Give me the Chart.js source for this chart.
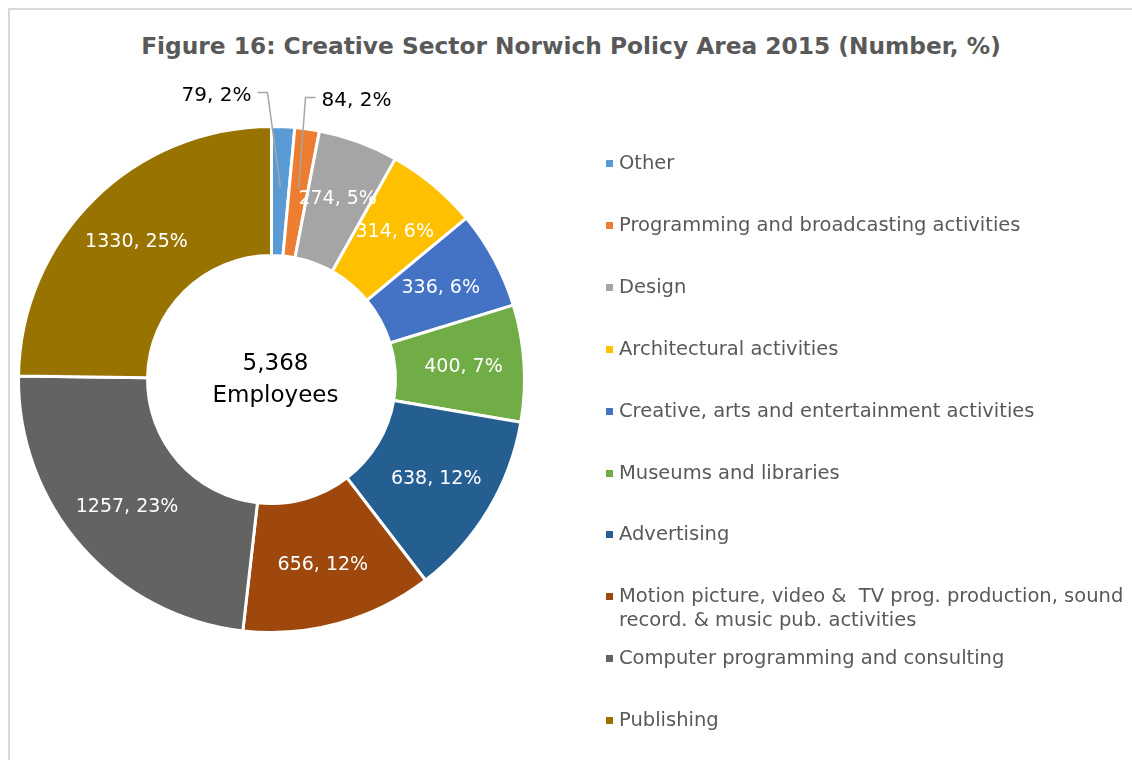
<!DOCTYPE html>
<html lang="en">
<head>
	<meta charset="utf-8" />
	<title>Creative Sector Norwich Policy Area 2015</title>
	<script src="https://cdn.jsdelivr.net/npm/chart.js@4.4.1/dist/chart.umd.min.js"></script>
	<style>
		html, body { margin: 0; padding: 0; background: #fff; overflow: hidden; }
		body { width: 1132px; height: 760px; position: relative; font-family: "DejaVu Sans", sans-serif; }
		.frame { position: absolute; left: 8px; top: 8px; width: 1200px; height: 800px; border: 2px solid #d9d9d9; box-sizing: border-box; }
		h1 { position: absolute; left: 10px; right: 0; top: 32px; margin: 0; text-align: center; font-size: 23.3px; font-weight: bold; color: #595959; }
		#chartWrap { position: absolute; left: 0; top: 0; width: 1132px; height: 760px; }
		.legend { position: absolute; left: 604px; top: 0; width: 528px; }
		.legend .item { position: absolute; left: 0; white-space: pre; font-size: 19.5px; line-height: 24px; color: #595959; }
		.legend .box { position: absolute; left: 2px; top: 9px; width: 7px; height: 7px; }
		.legend .txt { display: block; padding-left: 15px; }
	</style>
</head>
<body>
	<div class="frame"></div>
	<h1>Figure 16: Creative Sector Norwich Policy Area 2015 (Number, %)</h1>
	<div id="chartWrap"><canvas id="donut" width="1132" height="760"></canvas></div>
	<div class="legend" id="legend"></div>

	<script>
		const categories = [
			'Other',
			'Programming and broadcasting activities',
			'Design',
			'Architectural activities',
			'Creative, arts and entertainment activities',
			'Museums and libraries',
			'Advertising',
			'Motion picture, video &  TV prog. production, sound\nrecord. & music pub. activities',
			'Computer programming and consulting',
			'Publishing'
		];
		const employees = [79, 84, 274, 314, 336, 400, 638, 656, 1257, 1330];
		const percents = [2, 2, 5, 6, 6, 7, 12, 12, 23, 25];
		const totalLabel = ['5,368', 'Employees'];

		const colours = ['#5b9bd5', '#ed7d31', '#a5a5a5', '#ffc000', '#4472c4',
			'#70ad47', '#255e91', '#9e480e', '#636363', '#997300'];

		// small slices get a label outside with a leader line (offsets from the centre)
		const callouts = {
			0: { dx: -4, dy: -287, stub: -10 },
			1: { dx: 34, dy: -282, stub: 10 }
		};

		// legend built as html so the long motion picture entry can wrap
		const legend = document.getElementById('legend');
		categories.forEach((name, i) => {
			const item = document.createElement('div');
			item.className = 'item';
			item.style.top = (151 + i * 61.9) + 'px';
			item.innerHTML = '<span class="box" style="background:' + colours[i] + '"></span>';
			const t = document.createElement('span');
			t.className = 'txt';
			t.textContent = name;
			item.appendChild(t);
			legend.appendChild(item);
		});

		const sliceLabels = {
			id: 'sliceLabels',
			afterDatasetsDraw(chart) {
				const ctx = chart.ctx;
				const meta = chart.getDatasetMeta(0);
				ctx.save();
				ctx.textBaseline = 'middle';
				meta.data.forEach((arc, i) => {
					const p = arc.getProps(['x', 'y', 'startAngle', 'endAngle', 'innerRadius', 'outerRadius'], true);
					const mid = (p.startAngle + p.endAngle) / 2;
					const r = p.innerRadius + 0.53 * (p.outerRadius - p.innerRadius);
					const px = p.x + Math.cos(mid) * r;
					const py = p.y + Math.sin(mid) * r;
					const text = employees[i] + ', ' + percents[i] + '%';
					const c = callouts[i];
					if (c) {
						const ex = p.x + c.dx, ey = p.y + c.dy;
						ctx.strokeStyle = '#a6a6a6';
						ctx.lineWidth = 1.5;
						ctx.beginPath();
						ctx.moveTo(px, py);
						ctx.lineTo(ex, ey);
						ctx.lineTo(ex + c.stub, ey);
						ctx.stroke();
						ctx.font = '20px "DejaVu Sans", sans-serif';
						ctx.fillStyle = '#000';
						ctx.textAlign = c.stub < 0 ? 'right' : 'left';
						ctx.fillText(text, ex + c.stub + (c.stub < 0 ? -6 : 6), ey + 3);
					} else {
						ctx.font = '19px "DejaVu Sans", sans-serif';
						ctx.fillStyle = '#fff';
						ctx.textAlign = 'center';
						ctx.fillText(text, px, py);
					}
				});
				// total in the hole
				const a = meta.data[0];
				ctx.fillStyle = '#000';
				ctx.textAlign = 'center';
				ctx.font = '23px "DejaVu Sans", sans-serif';
				ctx.fillText(totalLabel[0], a.x + 4, a.y - 15);
				ctx.fillText(totalLabel[1], a.x + 4, a.y + 17);
				ctx.restore();
			}
		};

		new Chart(document.getElementById('donut').getContext('2d'), {
			type: 'doughnut',
			data: {
				labels: categories,
				datasets: [{
					data: employees,
					backgroundColor: colours,
					borderColor: '#ffffff',
					borderWidth: 3
				}]
			},
			options: {
				responsive: false,
				animation: false,
				cutout: '49%',
				layout: { padding: { left: 17, top: 125, right: 606, bottom: 126 } },
				plugins: {
					legend: { display: false },
					title: { display: false },
					tooltip: { enabled: false }
				}
			},
			plugins: [sliceLabels]
		});
	</script>
</body>
</html>
